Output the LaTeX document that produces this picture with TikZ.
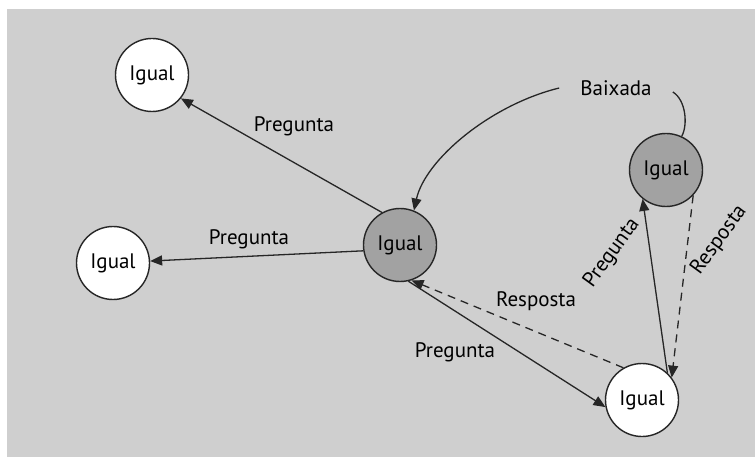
\documentclass[tikz,border=0pt]{standalone}
\usepackage{fontspec}
\setmainfont{PT Sans}
\usetikzlibrary{arrows.meta}
\definecolor{bggray}{RGB}{207,207,207}
\definecolor{peergray}{RGB}{162,162,162}
\begin{document}
\begin{tikzpicture}[x=1pt,y=-1pt,
  font=\fontsize{21}{25}\selectfont,
  peer/.style={circle, draw=black!85, line width=1.4pt, minimum size=73pt, inner sep=0pt, fill=white},
  active/.style={peer, fill=peergray},
  link/.style={line width=1.3pt, draw=black!85, -{Triangle[length=12pt,width=10pt]}},
  reply/.style={link, dash pattern=on 8pt off 6pt},
  lbl/.style={inner sep=0pt}]
\useasboundingbox (0,0) rectangle (755,457);
\fill[bggray] (7,9) rectangle (755,457);

% peers
\node[peer]   (A) at (152,75)  {Igual};
\node[peer]   (B) at (113,263) {Igual};
\node[active] (C) at (400,245) {Igual};
\node[active] (D) at (666,170) {Igual};
\node[peer]   (E) at (642,400) {Igual};

% query source
\node[lbl, inner xsep=21pt] (bx) at (616,88) {Baixada};

% queries and answers
\draw[link] (C.119) -- (A.-39);
\draw[link] (C.189) -- (B.3);
\draw[link] (C.283) -- (E.191);
\draw[reply] (E.120) -- (C.288);
\draw[link] (E.47) -- (D.231);
\draw[reply] (D.317) -- (E.37);

% download paths
\draw[link] (bx.west) .. controls (490,105) and (425,160) .. (C.68);
\draw[line width=1.3pt, draw=black!85] ([yshift=-4pt]bx.east) .. controls (686,100) and (688,125) .. (D.65);

% edge labels
\node[lbl] (l1) at (294,126) {Pregunta};
\node[lbl] (l2) at (249,239) {Pregunta};
\node[lbl] (l3) at (455,352) {Pregunta};
\node[lbl] (l4) at (536,301) {Resposta};
\node[lbl, rotate=54] (l5) at (612,253) {Pregunta};
\node[lbl, rotate=54] (l6) at (719,240) {Resposta};
\end{tikzpicture}
\end{document}
